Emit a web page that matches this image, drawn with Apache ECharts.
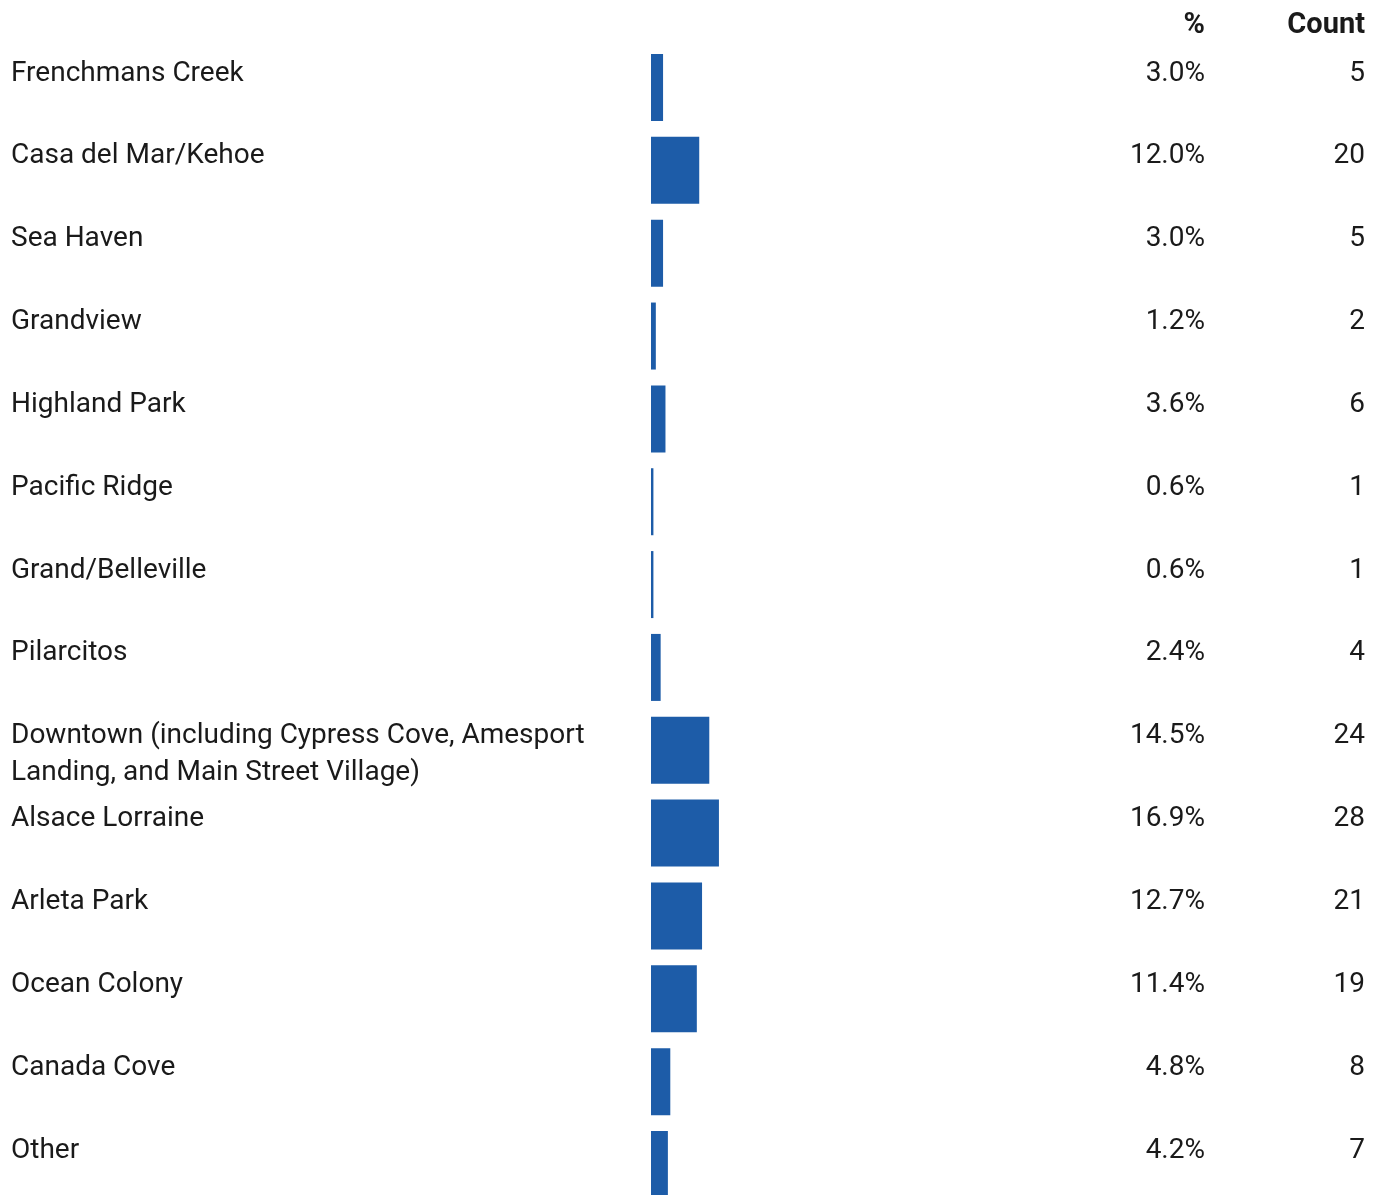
<!DOCTYPE html>
<html>
<head>
<meta charset="utf-8">
<script src="https://cdn.jsdelivr.net/npm/echarts@6/dist/echarts.min.js"></script>
<style>
  html, body { margin: 0; padding: 0; background: #ffffff; }
  #chart { width: 1377px; height: 1195px; }
</style>
</head>
<body>
<div id="chart"></div>
<script>
// Neighbourhood responses: share of respondents and raw counts
const categories = [
  'Frenchmans Creek',
  'Casa del Mar/Kehoe',
  'Sea Haven',
  'Grandview',
  'Highland Park',
  'Pacific Ridge',
  'Grand/Belleville',
  'Pilarcitos',
  'Downtown (including Cypress Cove, Amesport Landing, and Main Street Village)',
  'Alsace Lorraine',
  'Arleta Park',
  'Ocean Colony',
  'Canada Cove',
  'Other'
];
const percents = [3.0, 12.0, 3.0, 1.2, 3.6, 0.6, 0.6, 2.4, 14.5, 16.9, 12.7, 11.4, 4.8, 4.2];
const counts = [5, 20, 5, 2, 6, 1, 1, 4, 24, 28, 21, 19, 8, 7];
const headers = ['%', 'Count'];

const FONT = 'Roboto, "Noto Sans", sans-serif';
const TEXT = '#1a1a1a';
const BAR = '#1d5ca8';

const chart = echarts.init(document.getElementById('chart'));

const baseLabel = {
  show: true,
  fontFamily: FONT,
  fontSize: 28,
  lineHeight: 37,
  color: TEXT,
  verticalAlign: 'top'
};

// Rows sit on the category ticks (no boundary gap) so the first and last
// row centres define the plot area.
chart.setOption({
  animation: false,
  backgroundColor: '#ffffff',
  grid: { left: 651, top: 87.5, width: 402, height: 1077, containLabel: false },
  xAxis: { type: 'value', min: 0, max: 100, show: false },
  yAxis: {
    type: 'category',
    data: categories,
    inverse: true,
    boundaryGap: false,
    show: false
  },
  graphic: [
    {
      type: 'text', right: 1377 - 1205, top: 11,
      style: { text: headers[0], font: 'bold 29px ' + FONT, fill: TEXT, textAlign: 'right' }
    },
    {
      type: 'text', right: 1377 - 1365, top: 11,
      style: { text: headers[1], font: 'bold 29px ' + FONT, fill: TEXT, textAlign: 'right' }
    }
  ],
  series: [
    {
      type: 'bar',
      data: percents,
      barWidth: 67,
      barGap: '-100%',
      clip: false,
      itemStyle: { color: BAR },
      silent: true,
      label: Object.assign({}, baseLabel, {
        position: [-640, 1],
        align: 'left',
        width: 620,
        overflow: 'break',
        formatter: p => categories[p.dataIndex]
      })
    },
    {
      type: 'bar',
      data: percents,
      barWidth: 67,
      barGap: '-100%',
      clip: false,
      itemStyle: { color: 'rgba(0,0,0,0)' },
      silent: true,
      label: Object.assign({}, baseLabel, {
        position: [554, 1],
        align: 'right',
        formatter: p => percents[p.dataIndex].toFixed(1) + '%'
      })
    },
    {
      type: 'bar',
      data: percents,
      barWidth: 67,
      barGap: '-100%',
      clip: false,
      itemStyle: { color: 'rgba(0,0,0,0)' },
      silent: true,
      label: Object.assign({}, baseLabel, {
        position: [714, 1],
        align: 'right',
        formatter: p => String(counts[p.dataIndex])
      })
    }
  ]
});
</script>
</body>
</html>
